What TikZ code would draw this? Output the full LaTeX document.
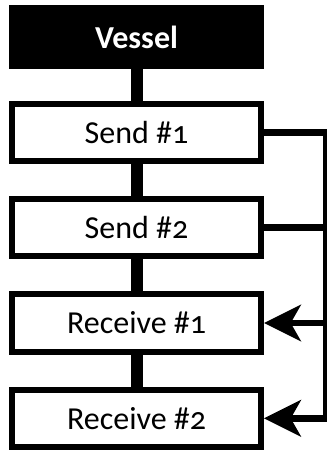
\documentclass[tikz,border=0pt]{standalone}
\usepackage{fontspec}
\setmainfont[Numbers=OldStyle]{Carlito}
\usetikzlibrary{positioning, arrows.meta}

\begin{document}
\begin{tikzpicture}[
    node distance=24pt,
    stage/.style={draw, line width=4.5pt, fill=white, minimum width=186.75pt, minimum height=43pt, font=\fontsize{24}{28}\selectfont},
    head/.style={stage, fill=black, text=white, font=\fontsize{24}{28}\selectfont\bfseries},
    chain/.style={line width=9pt},
    wire/.style={line width=4.8pt},
    tip/.style={-{Stealth[length=28pt, width=28pt, inset=8pt, line width=0pt]}}
]
            \useasboundingbox (0,0) rectangle (244.5pt,-337.5pt);
            % Stages
            \node[head] (vessel) at (102.4pt,-27.75pt) {Vessel};
            \node[stage, below=of vessel] (send1) {Send \#1};
            \node[stage, below=of send1] (send2) {Send \#2};
            \node[stage, below=of send2] (recv1) {Receive \#1};
            \node[stage, below=of recv1] (recv2) {Receive \#2};
            
            % Links down the stack
            \draw[chain] (vessel.south) -- (send1.north);
            \draw[chain] (send1.south) -- (send2.north);
            \draw[chain] (send2.south) -- (recv1.north);
            \draw[chain] (recv1.south) -- (recv2.north);
            
            % Return rail on the right
            \coordinate (rail) at (244.5pt,0);
            \draw[wire, tip] (send1.east) -- (send1.east -| rail) |- (recv2.east);
            \draw[wire] (send2.east) -- (send2.east -| rail);
            \draw[wire, tip] (recv1.east -| rail) -- (recv1.east);
\end{tikzpicture}
\end{document}
